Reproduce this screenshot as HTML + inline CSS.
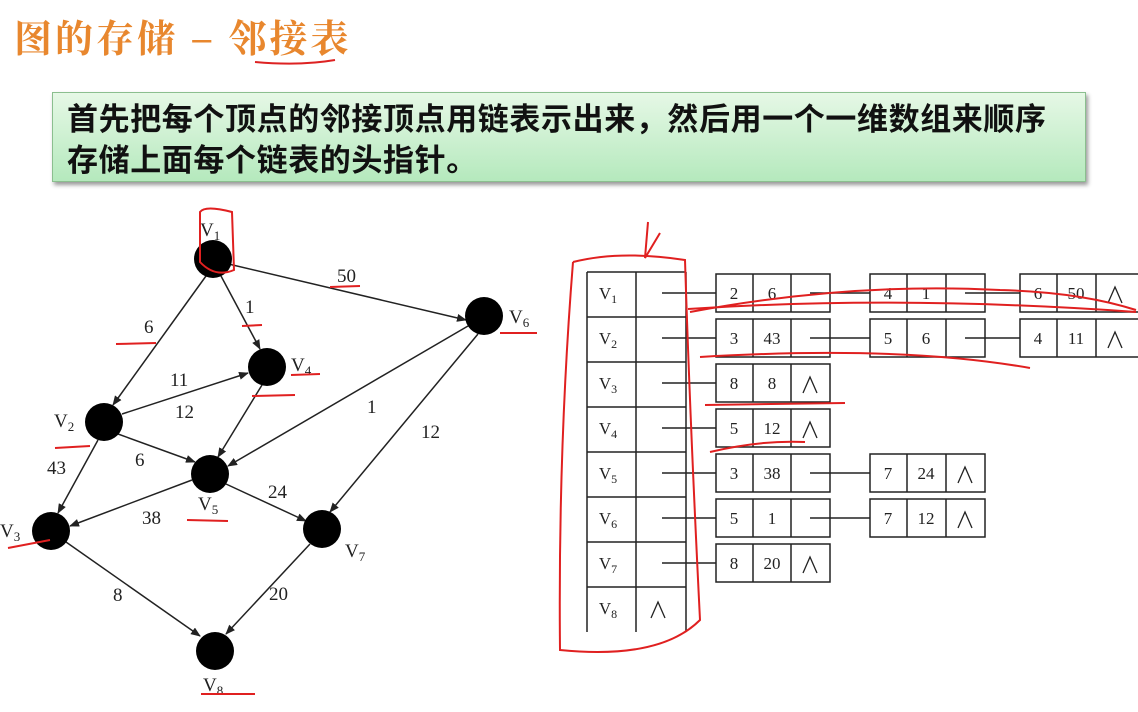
<!DOCTYPE html>
<html><head><meta charset="utf-8"><style>
body{margin:0;width:1138px;height:712px;background:#fff;overflow:hidden;font-family:"Liberation Sans","Noto Sans CJK SC",sans-serif;}
.t{position:absolute;left:14px;top:8px;font-size:38px;color:#e8872e;font-family:"Noto Serif CJK SC","Noto Sans CJK SC",serif;font-weight:bold;letter-spacing:3px}
.box{position:absolute;left:52px;top:92px;width:1032px;height:88px;background:linear-gradient(#e6f8e6,#b5e9bd);border:1px solid #8bbf8f;box-shadow:2px 3px 4px #999;}
.box div{position:absolute;left:14px;top:3px;font-size:31px;font-weight:bold;line-height:41px;letter-spacing:0.6px;color:#111;font-family:"Noto Sans CJK SC",sans-serif;white-space:nowrap}
svg{position:absolute;left:0;top:0}
</style></head><body>
<div class="t">图的存储 – 邻接表</div>
<div class="box"><div>首先把每个顶点的邻接顶点用链表示出来，然后用一个一维数组来顺序<br>存储上面每个链表的头指针。</div></div>
<svg width="1138" height="712" font-family="Liberation Serif,serif">
<defs><marker id="a" markerWidth="10" markerHeight="8" refX="9" refY="4" orient="auto" markerUnits="userSpaceOnUse"><path d="M0,0L10,4L0,8z" fill="#222"/></marker></defs>
<path d="M255,62 Q300,66 335,60" stroke="#d22" stroke-width="2" fill="none"/>
<g stroke="#222" stroke-width="1.5" marker-end="url(#a)">
<line x1="220" y1="262" x2="466" y2="320"/>
<line x1="206" y1="276" x2="113" y2="405"/>
<line x1="221" y1="276" x2="260" y2="349"/>
<line x1="122" y1="414" x2="248" y2="373"/>
<line x1="118" y1="434" x2="195" y2="462"/>
<line x1="98" y1="440" x2="58" y2="513"/>
<line x1="262" y1="385" x2="218" y2="457"/>
<line x1="468" y1="326" x2="228" y2="466"/>
<line x1="478" y1="334" x2="330" y2="512"/>
<line x1="192" y1="480" x2="70" y2="526"/>
<line x1="226" y1="484" x2="306" y2="521"/>
<line x1="66" y1="542" x2="200" y2="636"/>
<line x1="310" y1="544" x2="226" y2="634"/>
</g>
<g fill="#000"><circle cx="213" cy="259" r="19"/><circle cx="484" cy="316" r="19"/><circle cx="267" cy="367" r="19"/><circle cx="104" cy="422" r="19"/><circle cx="210" cy="474" r="19"/><circle cx="51" cy="531" r="19"/><circle cx="322" cy="529" r="19"/><circle cx="215" cy="651" r="19"/></g>
<g font-size="19" fill="#222">
<text x="200" y="236">V<tspan font-size="13" dy="4">1</tspan></text>
<text x="509" y="323">V<tspan font-size="13" dy="4">6</tspan></text>
<text x="291" y="371">V<tspan font-size="13" dy="4">4</tspan></text>
<text x="54" y="427">V<tspan font-size="13" dy="4">2</tspan></text>
<text x="198" y="510">V<tspan font-size="13" dy="4">5</tspan></text>
<text x="0" y="537">V<tspan font-size="13" dy="4">3</tspan></text>
<text x="345" y="557">V<tspan font-size="13" dy="4">7</tspan></text>
<text x="203" y="691">V<tspan font-size="13" dy="4">8</tspan></text>
<text x="337" y="282">50</text><text x="245" y="313">1</text><text x="144" y="333">6</text>
<text x="170" y="386">11</text><text x="175" y="418">12</text><text x="367" y="413">1</text>
<text x="421" y="438">12</text><text x="47" y="474">43</text><text x="135" y="466">6</text>
<text x="268" y="498">24</text><text x="142" y="524">38</text><text x="113" y="601">8</text><text x="269" y="600">20</text>
</g>
<g stroke="#222" stroke-width="1.5" fill="none">
<path d="M587,272H686M587,317H686M587,362H686M587,407H686M587,452H686M587,497H686M587,542H686M587,587H686M587,272V632M636,272V632M686,272V632"/>
<path d="M662,293H716M662,338H716M662,383H716M662,428H716M662,473H716M662,518H716M662,563H716"/>
<path d="M810,293H870M965,293H1020M810,338H870M965,338H1020M810,473H870M810,518H870"/>
<rect x="716" y="274" width="114" height="38"/><path d="M753,274v38M791,274v38"/>
<rect x="870" y="274" width="115" height="38"/><path d="M907,274v38M946,274v38"/>
<path d="M1138,274H1020v38H1138M1057,274v38M1096,274v38"/>
<rect x="716" y="319" width="114" height="38"/><path d="M753,319v38M791,319v38"/>
<rect x="870" y="319" width="115" height="38"/><path d="M907,319v38M946,319v38"/>
<path d="M1138,319H1020v38H1138M1057,319v38M1096,319v38"/>
<rect x="716" y="364" width="114" height="38"/><path d="M753,364v38M791,364v38"/>
<rect x="716" y="409" width="114" height="38"/><path d="M753,409v38M791,409v38"/>
<rect x="716" y="454" width="114" height="38"/><path d="M753,454v38M791,454v38"/>
<rect x="870" y="454" width="115" height="38"/><path d="M907,454v38M946,454v38"/>
<rect x="716" y="499" width="114" height="38"/><path d="M753,499v38M791,499v38"/>
<rect x="870" y="499" width="115" height="38"/><path d="M907,499v38M946,499v38"/>
<rect x="716" y="544" width="114" height="38"/><path d="M753,544v38M791,544v38"/>
</g>
<g font-size="17" fill="#222" text-anchor="middle">
<text x="608" y="299">V<tspan font-size="12" dy="4">1</tspan></text>
<text x="608" y="344">V<tspan font-size="12" dy="4">2</tspan></text>
<text x="608" y="389">V<tspan font-size="12" dy="4">3</tspan></text>
<text x="608" y="434">V<tspan font-size="12" dy="4">4</tspan></text>
<text x="608" y="479">V<tspan font-size="12" dy="4">5</tspan></text>
<text x="608" y="524">V<tspan font-size="12" dy="4">6</tspan></text>
<text x="608" y="569">V<tspan font-size="12" dy="4">7</tspan></text>
<text x="608" y="614">V<tspan font-size="12" dy="4">8</tspan></text>
<g stroke="#222" stroke-width="1.3" fill="none">
<path d="M651,618l7,-16l7,16M1108,303l7,-16l7,16M1108,348l7,-16l7,16M803,393l7,-16l7,16M803,438l7,-16l7,16M958,483l7,-16l7,16M958,528l7,-16l7,16M803,573l7,-16l7,16"/>
</g>
<text x="734" y="299">2</text><text x="772" y="299">6</text>
<text x="888" y="299">4</text><text x="926" y="299">1</text>
<text x="1038" y="299">6</text><text x="1076" y="299">50</text>
<text x="734" y="344">3</text><text x="772" y="344">43</text>
<text x="888" y="344">5</text><text x="926" y="344">6</text>
<text x="1038" y="344">4</text><text x="1076" y="344">11</text>
<text x="734" y="389">8</text><text x="772" y="389">8</text>
<text x="734" y="434">5</text><text x="772" y="434">12</text>
<text x="734" y="479">3</text><text x="772" y="479">38</text>
<text x="888" y="479">7</text><text x="926" y="479">24</text>
<text x="734" y="524">5</text><text x="772" y="524">1</text>
<text x="888" y="524">7</text><text x="926" y="524">12</text>
<text x="734" y="569">8</text><text x="772" y="569">20</text>
</g>
<g stroke="#e02020" stroke-width="2" fill="none">
<path d="M573,262Q620,250 685,260Q690,420 700,620Q660,660 560,650Q558,450 573,262"/>
<path d="M648,222L645,258L660,233"/>
<path d="M200,212Q205,205 232,212L234,270Q215,278 200,262Z"/>
<path d="M688,309Q900,295 1136,312M690,312Q850,282 1000,290Q1080,292 1136,310"/>
<path d="M700,357Q900,345 1030,368M705,405L845,403M710,452Q760,440 805,442"/>
<path d="M330,287L360,286M242,326L262,325M116,344L156,343M252,396L295,395M55,448L90,446M8,548L50,540M187,520L228,521M201,694L255,694M500,333L537,333M291,375L320,374"/>
</g>
</svg>
</body></html>
